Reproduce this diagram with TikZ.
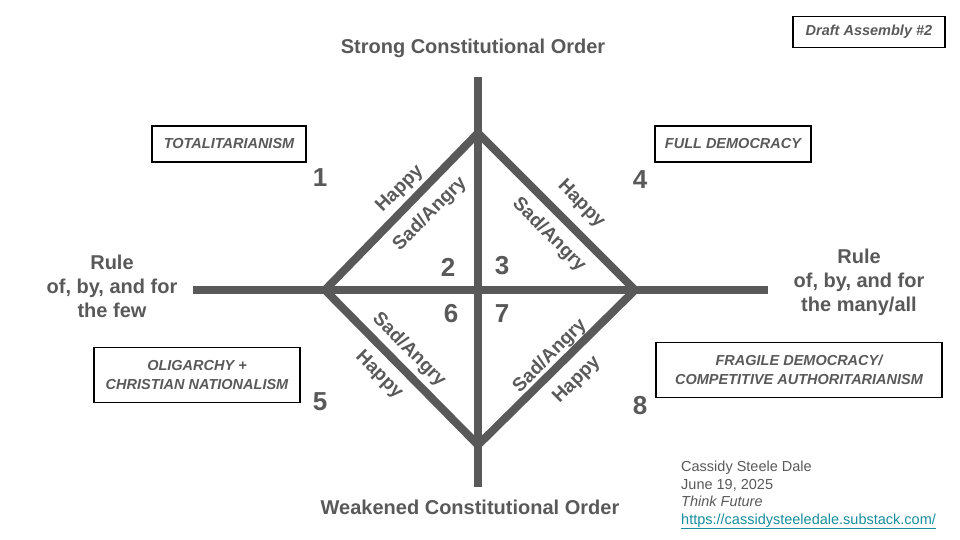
\documentclass[tikz,border=0pt]{standalone}
\usepackage{fontspec}
\setmainfont{Liberation Sans}
\usetikzlibrary{positioning}
\definecolor{axisgray}{RGB}{89,89,89}
\definecolor{linkteal}{RGB}{22,140,156}

\begin{document}
\begin{tikzpicture}[x=1pt, y=-1pt,
heading/.style={text=axisgray, font=\fontsize{20}{24}\selectfont\bfseries, align=center},
regime/.style={draw=black, line width=1.5pt, text=axisgray, font=\fontsize{14.5}{19}\selectfont\bfseries\itshape, align=center, inner sep=0pt},
quadnum/.style={text=axisgray, font=\fontsize{26}{26}\selectfont\bfseries},
mood/.style={text=axisgray, font=\fontsize{19}{19}\selectfont\bfseries},
axis/.style={axisgray, line width=8pt}]
\useasboundingbox (0,0) rectangle (960,540);
% axes and diamond
\coordinate (axtop) at (478,77);
\coordinate (axbot) at (478,487);
\coordinate (axleft) at (193,290);
\coordinate (axright) at (768,290);
\coordinate (dtop) at (478,133);
\coordinate (dleft) at (325,290);
\coordinate (dright) at (635,290);
\coordinate (dbot) at (478,445);
\draw[axis] (axtop) -- (axbot);
\draw[axis] (axleft) -- (axright);
\draw[axis, line join=miter] (dtop) -- (dright) -- (dbot) -- (dleft) -- cycle;
% axis titles
\node[heading] (strong) at (473,48) {Strong Constitutional Order};
\node[heading] (weak) at (470,507) {Weakened Constitutional Order};
\node[heading] (few) at (112,286) {Rule\\of, by, and for\\the few};
\node[heading] (many) at (859,282) {Rule\\of, by, and for\\the many/all};
% regime boxes
\node[regime, minimum width=154pt, minimum height=36pt] (total) at (229,144) {TOTALITARIANISM};
\node[regime, minimum width=156pt, minimum height=36pt] (fulldem) at (733,144) {FULL DEMOCRACY};
\node[regime, minimum width=206pt, minimum height=55pt] (olig) at (197,375) {OLIGARCHY +\\CHRISTIAN NATIONALISM};
\node[regime, minimum width=286pt, minimum height=55pt] (fragile) at (799,370) {FRAGILE DEMOCRACY/\\COMPETITIVE AUTHORITARIANISM};
\node[regime, minimum width=152pt, minimum height=31pt] (draft) at (869,32) {Draft Assembly \#2};
% quadrant numbers
\node[quadnum] (n1) at (320,178) {1};
\node[quadnum] (n4) at (640,180) {4};
\node[quadnum] (n5) at (320,402) {5};
\node[quadnum] (n8) at (640,406) {8};
\node[quadnum] (n2) at (448,267) {2};
\node[quadnum] (n3) at (502,266) {3};
\node[quadnum] (n6) at (451,314) {6};
\node[quadnum] (n7) at (502,314) {7};
% edge labels
\node[mood, rotate=45] (h1) at (400,189) {Happy};
\node[mood, rotate=45] (s1) at (430,214) {Sad/Angry};
\node[mood, rotate=-45] (h2) at (581,204) {Happy};
\node[mood, rotate=-45] (s2) at (549,235) {Sad/Angry};
\node[mood, rotate=-45] (s3) at (409,350) {Sad/Angry};
\node[mood, rotate=-45] (h3) at (379,375) {Happy};
\node[mood, rotate=45] (s4) at (550,356) {Sad/Angry};
\node[mood, rotate=45] (h4) at (577,380) {Happy};
% attribution
\node[text=axisgray, font=\fontsize{14.5}{17.5}\selectfont, align=left, anchor=north west, inner sep=0pt] (credit) at (681,461)
  {Cassidy Steele Dale\\June 19, 2025\\\textit{Think Future}\\\textcolor{linkteal}{\underline{https://cassidysteeledale.substack.com/}}};
\end{tikzpicture}
\end{document}
